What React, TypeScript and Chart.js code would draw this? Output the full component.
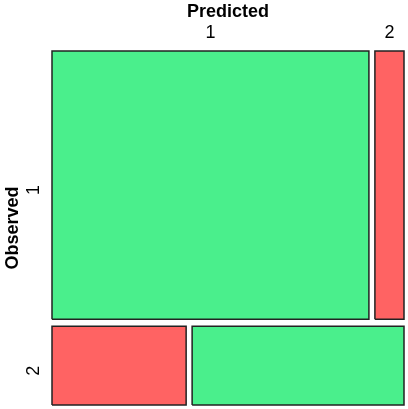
import React, { useEffect, useRef } from "react";
import { Chart, registerables } from "chart.js";

Chart.register(...registerables);

// Contingency table: rows = Observed, columns = Predicted
const observedLabels = ["1", "2"];
const predictedLabels = ["1", "2"];
const row1Counts = [708, 65]; // Observed 1: Predicted 1, Predicted 2
const row2Counts = [88, 139]; // Observed 2: Predicted 1, Predicted 2
const correctColor = "#4aef8c";
const wrongColor = "#ff6363";

const gapX = 0.017;
const gapY = 0.02;

function buildCells() {
  const rows = [row1Counts, row2Counts];
  const rowTotals = rows.map((r) => r[0] + r[1]);
  const total = rowTotals[0] + rowTotals[1];
  const cells: { x0: number; x1: number; y0: number; y1: number; color: string }[] = [];
  const rowCenters: number[] = [];
  let colCenters: number[] = [];
  // row 1 on top
  let yTop = 1;
  rows.forEach((r, i) => {
    const h = (rowTotals[i] / total) * (1 - gapY);
    const y1 = yTop;
    const y0 = yTop - h;
    rowCenters.push((y0 + y1) / 2);
    let x = 0;
    const centers: number[] = [];
    r.forEach((c, j) => {
      const w = (c / rowTotals[i]) * (1 - gapX);
      cells.push({ x0: x, x1: x + w, y0, y1, color: i === j ? correctColor : wrongColor });
      centers.push(x + w / 2);
      x += w + gapX;
    });
    if (i === 0) colCenters = centers;
    yTop = y0 - gapY;
  });
  return { cells, rowCenters, colCenters };
}

export default function App() {
  const ref = useRef<HTMLCanvasElement | null>(null);
  useEffect(() => {
    document.body.style.margin = "0";
    const { cells, rowCenters, colCenters } = buildCells();
    const datasets = cells.map((c) => ({
      type: "line" as const,
      data: [
        { x: c.x0, y: c.y0 },
        { x: c.x1, y: c.y0 },
        { x: c.x1, y: c.y1 },
        { x: c.x0, y: c.y1 },
        { x: c.x0, y: c.y0 },
      ],
      fill: "shape" as any,
      backgroundColor: c.color,
      borderColor: "#222222",
      borderWidth: 1.5,
      pointRadius: 0,
      tension: 0,
      clip: false as any,
    }));
    const zeroPad = (s: any) => {
      s.paddingTop = 0;
      s.paddingBottom = 0;
      s.paddingLeft = 0;
      s.paddingRight = 0;
    };
    const chart = new Chart(ref.current!, {
      type: "line",
      data: { datasets },
      options: {
        animation: false,
        responsive: false,
        maintainAspectRatio: false,
        layout: { padding: { right: 4, bottom: 4, top: 0, left: 0 } },
        plugins: { legend: { display: false }, tooltip: { enabled: false } },
        scales: {
          x: {
            type: "linear",
            position: "top",
            min: 0,
            max: 1,
            grid: { display: false, drawTicks: false },
            border: { display: false },
            afterBuildTicks: (s: any) => {
              s.ticks = colCenters.map((v) => ({ value: v }));
            },
            afterFit: (s: any) => {
              s.height = 51;
              zeroPad(s);
            },
            ticks: {
              callback: (_v: any, i: number) => predictedLabels[i],
              font: { family: "Liberation Sans, Arial", size: 18 },
              color: "#000",
              padding: 7,
              maxRotation: 0,
              autoSkip: false,
            },
            title: {
              display: true,
              text: "Predicted",
              font: { family: "Liberation Sans, Arial", size: 18, weight: "bold" },
              color: "#000",
              padding: { top: 1, bottom: 0 },
            },
          },
          y: {
            type: "linear",
            min: 0,
            max: 1,
            grid: { display: false, drawTicks: false },
            border: { display: false },
            afterBuildTicks: (s: any) => {
              s.ticks = rowCenters.map((v) => ({ value: v }));
            },
            afterFit: (s: any) => {
              s.width = 52;
              zeroPad(s);
            },
            ticks: {
              callback: (_v: any, i: number) => observedLabels[i],
              font: { family: "Liberation Sans, Arial", size: 18 },
              color: "#000",
              padding: 18,
              minRotation: 90,
              maxRotation: 90,
              autoSkip: false,
            },
            title: {
              display: true,
              text: "Observed",
              font: { family: "Liberation Sans, Arial", size: 18, weight: "bold" },
              color: "#000",
              padding: { top: 2, bottom: 0 },
            },
          },
        },
      },
    });
    return () => chart.destroy();
  }, []);
  return (
    <div style={{ width: 408, height: 409 }}>
      <canvas ref={ref} width={408} height={409} style={{ display: "block" }} />
    </div>
  );
}
